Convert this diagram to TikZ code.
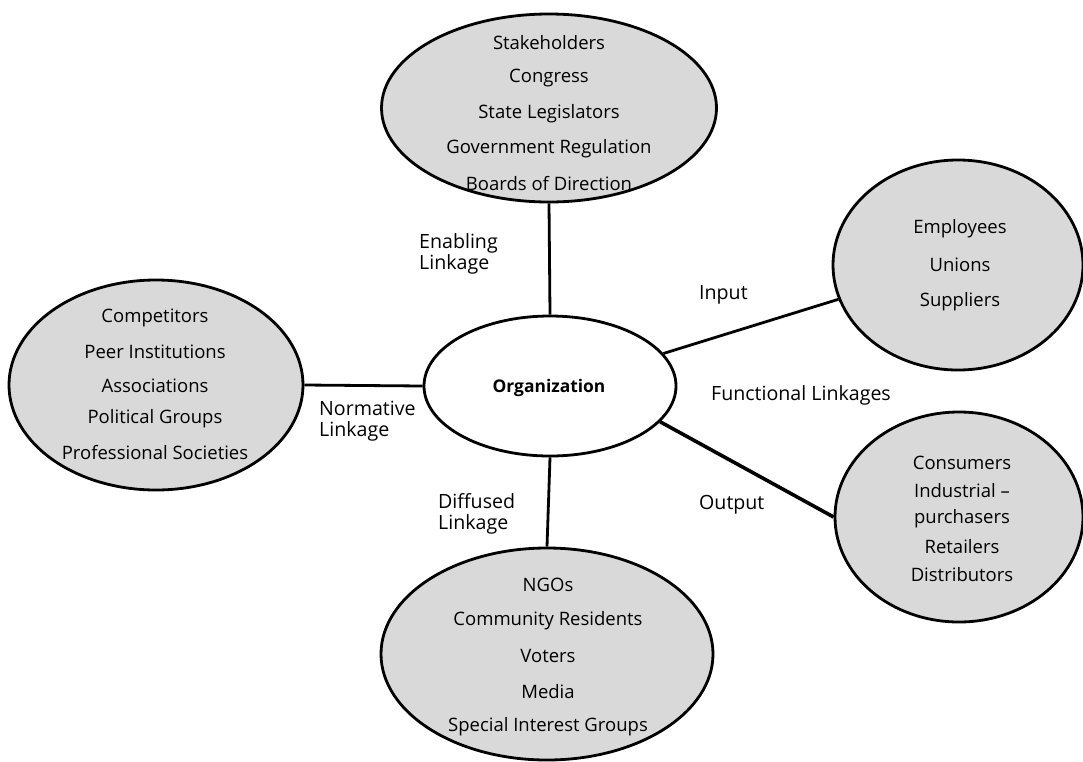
\documentclass[tikz,border=0pt]{standalone}
\usepackage{fontspec}
\setmainfont{Open Sans}
\usetikzlibrary{shapes.geometric}
\definecolor{groupfill}{RGB}{217,217,217}
\begin{document}
\begin{tikzpicture}[x=1pt,y=-1pt,
  group/.style={ellipse,draw=black,line width=2.8pt,fill=groupfill,inner sep=0pt},
  core/.style={ellipse,draw=black,line width=2.8pt,fill=white,inner sep=0pt},
  item/.style={inner sep=0pt,anchor=center,font=\fontsize{18.5}{22}\selectfont},
  linklabel/.style={inner sep=0pt,align=left,anchor=west,font=\fontsize{19.6}{21}\selectfont},
  link/.style={line width=2.8pt},
  thicklink/.style={line width=3.6pt}]
\useasboundingbox (0,0) rectangle (1083,761);

% ellipses
\node[group,minimum width=335pt,minimum height=188pt] (top) at (549,108) {};
\node[group,minimum width=250pt,minimum height=210pt] (rt) at (958,265) {};
\node[group,minimum width=294pt,minimum height=210pt] (left) at (156,385) {};
\node[group,minimum width=248pt,minimum height=210pt] (rb) at (959,517) {};
\node[group,minimum width=332pt,minimum height=212pt] (bot) at (547,654) {};
\node[core,minimum width=252pt,minimum height=140pt] (org) at (550,386) {};

% connectors
\draw[link] (top.south) -- (org.north);
\draw[link] (org.south) -- (bot.north);
\draw[link] (left.east) -- (org.west);
\draw[link] (org.16.7) -- (rt.196.5);
\draw[thicklink] (org.-18.4) -- (rb.180);

% core label
\node[inner sep=0pt,font=\fontsize{17.4}{20}\selectfont\bfseries] (orgtext) at (549,388) {Organization};

% top group
\node[item] (t1) at (549,43) {Stakeholders};
\node[item] (t2) at (549,78) {Congress};
\node[item] (t3) at (549,114) {State Legislators};
\node[item] (t4) at (549,149) {Government Regulation};
\node[item] (t5) at (549,184) {Boards of Direction};

% right upper group
\node[item] (r1) at (960,229) {Employees};
\node[item] (r2) at (960,265) {Unions};
\node[item] (r3) at (960,302) {Suppliers};

% left group
\node[item] (l1) at (155,318) {Competitors};
\node[item] (l2) at (155,352) {Peer Institutions};
\node[item] (l3) at (155,386) {Associations};
\node[item] (l4) at (155,419) {Political Groups};
\node[item] (l5) at (155,453) {Professional Societies};

% right lower group
\node[item] (b1) at (962,463) {Consumers};
\node[item] (b2) at (962,491) {Industrial --};
\node[item] (b3) at (962,519) {purchasers};
\node[item] (b4) at (962,547) {Retailers};
\node[item] (b5) at (962,575) {Distributors};

% bottom group
\node[item] (d1) at (548,585) {NGOs};
\node[item] (d2) at (548,621) {Community Residents};
\node[item] (d3) at (548,656) {Voters};
\node[item] (d4) at (548,692) {Media};
\node[item] (d5) at (548,727) {Special Interest Groups};

% linkage labels
\node[linklabel] (enab) at (419,254) {Enabling\\Linkage};
\node[linklabel] (inp) at (699,295) {Input};
\node[linklabel] (func) at (711,395) {Functional Linkages};
\node[linklabel] (outp) at (699,505) {Output};
\node[linklabel] (diff) at (438,514) {Diffused\\Linkage};
\node[linklabel] (norm) at (319,421) {Normative\\Linkage};
\end{tikzpicture}
\end{document}
